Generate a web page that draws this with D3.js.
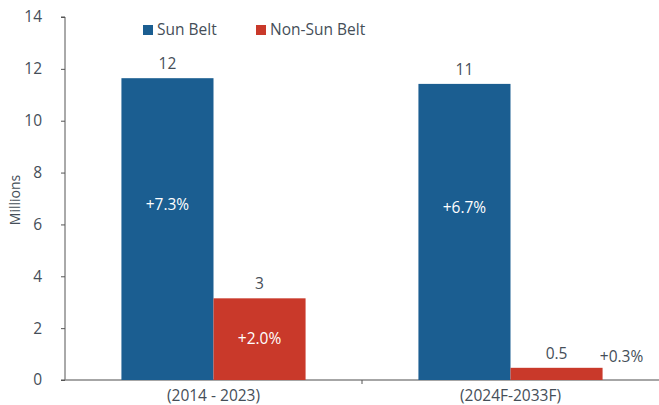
<!DOCTYPE html>
<html><head><meta charset="utf-8">
<script src="https://cdn.jsdelivr.net/npm/d3@7"></script>
<style>body{margin:0;background:#fff}text{font-family:"Open Sans",Lato,sans-serif;font-weight:400}</style>
</head><body><svg id="c" width="659" height="405"></svg>
<script>
const categories = ["(2014 - 2023)", "(2024F-2033F)"];
const seriesNames = ["Sun Belt", "Non-Sun Belt"];
const sunBelt = [11.64, 11.42];
const nonSunBelt = [3.15, 0.47];
const valueLabels = [["12", "3"], ["11", "0.5"]];
const growthLabels = [["+7.3%", "+2.0%"], ["+6.7%", "+0.3%"]];
const yTicks = [0, 2, 4, 6, 8, 10, 12, 14];
const colors = ["#1b5e91", "#c9392a"];

const svg = d3.select("#c");
const mL = 65, mR = 659, mT = 17, mB = 380;
const fs = 15.5;
const y = d3.scaleLinear().domain([0, 14]).range([mB, mT]);
const x0 = d3.scaleBand().domain(categories).range([mL, mR]).paddingInner(0.38).paddingOuter(0.19);
const x1 = d3.scaleBand().domain(seriesNames).range([0, x0.bandwidth()]);
const textCol = "#454e58";

// Y axis
const ya = svg.append("g").attr("transform", `translate(${mL},0)`)
  .call(d3.axisLeft(y).tickValues(yTicks).tickSize(4).tickPadding(19));
ya.select(".domain").attr("stroke", "#555").attr("d", `M-4,${mT}H0V${mB}H-4`);
ya.selectAll(".tick line").attr("stroke", "#555");
ya.selectAll("text").attr("font-size", fs).attr("fill", textCol).attr("font-family", null);

// X axis
const xa = svg.append("g").attr("transform", `translate(0,${mB})`)
  .call(d3.axisBottom(d3.scaleLinear().domain([0,1]).range([mL, mR])).tickValues([]).tickSize(0));
xa.select(".domain").attr("stroke", "#888").attr("stroke-width", 1.5).attr("d", `M${mL},0H${mR}`);
xa.append("line").attr("x1", x0.step() + mL).attr("x2", x0.step() + mL).attr("y1", 0).attr("y2", 4).attr("stroke", "#555");

svg.append("g").selectAll("text").data(categories).join("text")
  .attr("x", d => x0(d) + x0.bandwidth() / 2).attr("y", 401)
  .attr("text-anchor", "middle").attr("font-size", fs).attr("fill", textCol).text(d => d);

// Bars
const data = categories.map((c, i) => ({ c, vals: [sunBelt[i], nonSunBelt[i]], i }));
const g = svg.append("g").selectAll("g").data(data).join("g")
  .attr("transform", d => `translate(${x0(d.c)},0)`);
g.selectAll("rect").data(d => d.vals.map((v, j) => ({ v, j, i: d.i }))).join("rect")
  .attr("x", d => x1(seriesNames[d.j])).attr("width", x1.bandwidth())
  .attr("y", d => y(d.v)).attr("height", d => mB - y(d.v))
  .attr("fill", d => colors[d.j]);

// value labels
g.selectAll("text.v").data(d => d.vals.map((v, j) => ({ v, j, i: d.i }))).join("text")
  .attr("class", "v")
  .attr("x", d => x1(seriesNames[d.j]) + x1.bandwidth() / 2).attr("y", d => y(d.v) - 9)
  .attr("text-anchor", "middle").attr("font-size", fs).attr("fill", textCol)
  .text(d => valueLabels[d.i][d.j]);

// growth labels
g.selectAll("text.gr").data(d => d.vals.map((v, j) => ({ v, j, i: d.i }))).join("text")
  .attr("class", "gr")
  .each(function(d) {
    const t = d3.select(this);
    const cx = x1(seriesNames[d.j]) + x1.bandwidth() / 2;
    if (d.j === 1 && d.v < 1) {
      t.attr("x", cx + x1.bandwidth() / 2 + 19).attr("y", y(d.v) - 6).attr("fill", textCol).attr("text-anchor", "middle");
    } else {
      const yy = d.j === 0 ? y(d.v * 0.58) : (y(d.v) + mB) / 2;
      t.attr("x", cx).attr("y", yy + 5).attr("fill", "#fff").attr("text-anchor", "middle");
    }
  })
  .attr("font-size", fs)
  .text(d => growthLabels[d.i][d.j]);

// Y label
svg.append("text").attr("transform", "translate(20,200) rotate(-90)")
  .attr("text-anchor", "middle").attr("font-size", 14).attr("fill", textCol).text("Millions");

// Legend
const lg = svg.append("g").selectAll("g").data(seriesNames).join("g")
  .attr("transform", (d, i) => `translate(${[143, 256][i]},25)`);
lg.append("rect").attr("width", 10).attr("height", 10).attr("fill", (d, i) => colors[i]);
lg.append("text").attr("x", 14).attr("y", 10).attr("font-size", fs).attr("fill", textCol).text(d => d);
</script></body></html>
